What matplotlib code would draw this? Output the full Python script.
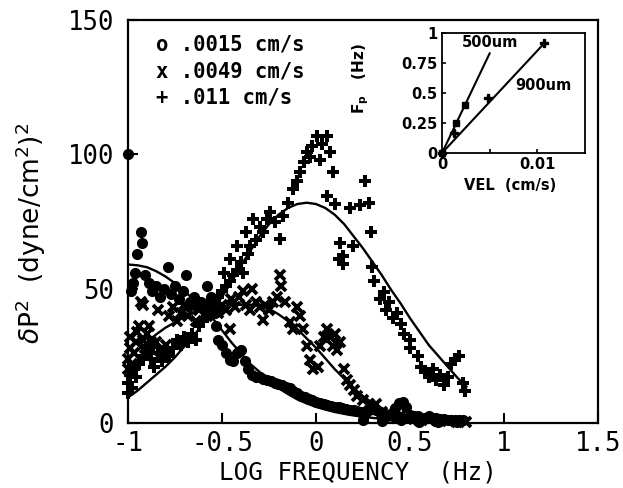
import matplotlib
matplotlib.use('Agg')
import matplotlib.pyplot as plt

# ---------------- data ----------------
# fitted curves (log frequency, power)
fit_freq = [-1.00, -0.95, -0.90, -0.85, -0.80, -0.75, -0.70, -0.65, -0.60, -0.55,
            -0.50, -0.45, -0.40, -0.35, -0.30, -0.25, -0.20, -0.15, -0.10, -0.05,
            0.00, 0.05, 0.10, 0.15, 0.20, 0.25, 0.30, 0.35, 0.40, 0.45,
            0.50, 0.55, 0.60, 0.65, 0.70, 0.75, 0.80]
fit_o = [59, 58.7, 58, 56.5, 54.5, 52, 49, 46, 43, 39,
         34.5, 30, 26, 22, 19, 16, 13, 10.8, 8.8, 7.3,
         6, 5, 4.1, 3.4, 2.8, 2.3, 1.9, 1.6, 1.3, 1.1,
         0.9, 0.75, 0.6, 0.5, 0.42, 0.35, 0.3]
fit_x = [24, 27, 30, 33, 35.5, 37.5, 39.5, 41, 42, 43,
         43.5, 44, 44, 44, 43.5, 42.5, 40.5, 38, 35, 31.5,
         28, 24, 20, 16.5, 13, 10, 7.5, 5.5, 4, 3,
         2.2, 1.6, 1.2, 0.9, 0.7, 0.5, 0.4]
fit_p = [9.5, 12, 15, 18, 21, 24.5, 28.5, 32.5, 37, 42,
         47, 52.5, 58.5, 64, 69.5, 74, 77.5, 80, 81.5, 82,
         81.5, 80, 77.5, 74, 69.5, 65, 60, 55, 49.5, 44.5,
         39, 34, 29, 25, 21, 17, 13.5]

# series o : .0015 cm/s
o_freq = [-1.00, -0.93, -0.925, -0.95, -0.965, -0.975, -0.985, -0.91, -0.89, -0.87,
          -0.85, -0.83, -0.81, -0.79, -0.77, -0.75, -0.73, -0.71, -0.69, -0.67,
          -0.65, -0.63, -0.61, -0.59, -0.58, -0.56, -0.54, -0.53, -0.52, -0.50,
          -0.48, -0.46, -0.44, -0.42, -0.40, -0.38, -0.36, -0.34, -0.32, -0.30,
          -0.28, -0.26, -0.24, -0.22, -0.20, -0.18, -0.16, -0.14, -0.12, -0.10,
          -0.08, -0.06, -0.04, -0.02, 0.00, 0.02, 0.04, 0.06, 0.08, 0.10,
          0.12, 0.14, 0.16, 0.18, 0.20, 0.22, 0.24, 0.26, 0.28, 0.30,
          0.32, 0.34, 0.36, 0.38, 0.40, 0.42, 0.44, 0.46, 0.48, 0.50,
          0.52, 0.54, 0.56, 0.58, 0.60, 0.62, 0.64, 0.66, 0.68, 0.70,
          0.72, 0.74, 0.76, 0.78, 0.25, 0.35, 0.45, 0.55, 0.65, 0.75]
o_pow = [100, 71, 67, 63, 56, 52, 49, 55, 52, 49,
         51, 47, 50, 58, 48, 51, 46, 49, 55, 45,
         47, 43, 45, 42, 51, 47, 41, 36, 31, 29,
         26, 23.5, 23, 26, 27, 23, 20, 18, 17, 17,
         16.5, 16, 15.5, 15, 14.5, 14, 13.5, 13, 12, 11,
         10, 9.5, 9, 8.5, 8, 7.5, 7, 6.8, 6.5, 6,
         5.8, 5.5, 5.2, 5, 4.8, 4.5, 4, 3.5, 5, 6.5,
         5, 4, 3, 2.5, 3, 5.5, 7.5, 8, 6, 3,
         2.5, 2.5, 2, 2, 2.5, 2, 2, 1.5, 1.5, 1.2,
         1.2, 1, 1, 1, 1, 0.8, 1, 0.5, 0.5, 0.5]

# series x : .0049 cm/s
x_freq = [-1.00, -1.00, -0.99, -0.99, -0.98, -0.97, -0.96, -0.95, -0.94, -0.93,
          -0.92, -0.92, -0.91, -0.90, -0.89, -0.88, -0.87, -0.85, -0.84, -0.83,
          -0.82, -0.80, -0.78, -0.76, -0.74, -0.72, -0.70, -0.68, -0.66, -0.64,
          -0.62, -0.60, -0.58, -0.56, -0.54, -0.52, -0.50, -0.48, -0.46, -0.45,
          -0.43, -0.41, -0.39, -0.37, -0.35, -0.34, -0.32, -0.30, -0.28, -0.27,
          -0.25, -0.23, -0.21, -0.19, -0.185, -0.165, -0.14, -0.12, -0.10, -0.085,
          -0.07, -0.05, -0.03, -0.016, 0.01, 0.02, 0.04, 0.06, 0.075, 0.09,
          0.10, 0.11, 0.13, 0.15, 0.165, 0.18, 0.20, 0.22, 0.25, 0.28,
          0.30, 0.32, 0.35, 0.38, 0.40, 0.43, 0.45, 0.48, 0.52, 0.55,
          0.60, 0.65, 0.70, 0.75, 0.80]
x_pow = [20, 24, 28, 32, 22, 26, 30, 34, 36, 45,
         44, 31, 28, 33, 36, 30, 27, 30, 42, 27,
         25, 29, 40, 43, 38, 41, 44, 40, 43, 38,
         42, 44, 40, 43, 45, 41, 44, 42, 35, 46,
         43, 47, 49, 44, 42, 50, 45, 43, 38.5, 44,
         42, 45, 47, 55, 51, 45, 37.5, 35, 43, 40,
         35, 28.5, 23.6, 20, 21, 28.5, 32, 35, 32, 28.5,
         33, 27, 30, 20, 16, 14, 12.3, 10, 8.6, 7,
         6, 7, 4, 3.5, 2.5, 2, 3, 2, 1.5, 1,
         1, 0.8, 0.8, 0.5, 0.5]

# series + : .011 cm/s
p_freq = [-1.00, -1.00, -0.99, -0.98, -0.97, -0.96, -0.94, -0.92, -0.90, -0.88,
          -0.86, -0.84, -0.82, -0.80, -0.78, -0.76, -0.74, -0.72, -0.70, -0.68,
          -0.66, -0.64, -0.62, -0.60, -0.58, -0.56, -0.54, -0.52, -0.50, -0.49,
          -0.48, -0.46, -0.46, -0.44, -0.42, -0.42, -0.40, -0.39, -0.37, -0.36,
          -0.35, -0.335, -0.32, -0.30, -0.28, -0.26, -0.245, -0.22, -0.19, -0.175,
          -0.15, -0.12, -0.10, -0.085, -0.065, -0.048, -0.03, -0.02, 0.005, 0.02,
          0.03, 0.058, 0.075, 0.09, 0.058, 0.10, 0.13, 0.12, 0.145, 0.145,
          0.18, 0.197, 0.235, 0.26, 0.28, 0.29, 0.30, 0.31, 0.34, 0.36,
          0.37, 0.39, 0.41, 0.43, 0.45, 0.47, 0.50, 0.50, 0.54, 0.56,
          0.58, 0.60, 0.62, 0.64, 0.66, 0.68, 0.70, 0.72, 0.74, 0.76,
          0.78, 0.79]
p_pow = [11, 15, 18, 13, 20, 17, 22, 25, 28, 24,
         21, 26, 23, 27, 25, 28, 31, 29, 32, 30,
         33, 31, 36, 38, 40, 42, 45, 47, 49, 56,
         51, 61, 53, 55, 66, 57, 60, 56, 71, 63,
         66, 76, 68, 73, 71, 76, 78.5, 75, 68.5, 77,
         82, 87, 90, 93.5, 97, 101, 99, 103, 107, 98,
         104, 107, 101, 93.5, 84.5, 81.5, 67, 61, 62, 59,
         80, 66, 81, 90, 82, 71, 58, 53, 46, 48.6,
         42, 45, 39, 41, 37, 33, 31, 28, 25, 21,
         19, 17, 20, 16, 18, 14, 17, 22, 24, 25,
         15, 12]

legend_labels = ['o .0015 cm/s', 'x .0049 cm/s', '+ .011 cm/s']
x_ticks = [-1, -0.5, 0, 0.5, 1, 1.5]
x_ticklabels = ['-1', '-0.5', '0', '0.5', '1', '1.5']
y_ticks = [0, 50, 100, 150]

# inset data: peak frequency vs velocity
ins_vel_500 = [0.0, 0.0015, 0.0024]
ins_fp_500 = [0.0, 0.25, 0.40]
ins_vel_900 = [0.0, 0.0013, 0.0048, 0.0107]
ins_fp_900 = [0.0, 0.17, 0.46, 0.92]
line_vel_500 = [0.0, 0.0050]
line_fp_500 = [0.0, 0.83]
line_vel_900 = [0.0, 0.0108]
line_fp_900 = [0.0, 0.92]

# ---------------- figure ----------------
plt.rcParams['font.family'] = ['DejaVu Sans']
fig = plt.figure(figsize=(6.23, 4.88), dpi=100)
ax = fig.add_axes([0.2055, 0.1332, 0.7544, 0.8258])
ax.set_xlim(-1, 1.5)
ax.set_ylim(0, 150)

ax.plot(fit_freq, fit_o, color='black', lw=1.7)
ax.plot(fit_freq, fit_x, color='black', lw=1.7)
ax.plot(fit_freq, fit_p, color='black', lw=1.7)

ax.plot(o_freq, o_pow, 'o', ms=7, color='black', clip_on=False)
ax.plot(x_freq, x_pow, 'x', ms=6.5, mew=2.7, color='black', clip_on=False)
ax.plot(p_freq, p_pow, '+', ms=8, mew=2.9, color='black', clip_on=False)

ax.set_xticks(x_ticks)
ax.set_xticklabels(x_ticklabels)
ax.set_yticks(y_ticks)
ax.tick_params(direction='in', length=7, width=1.5, labelsize=18.5)
ax.tick_params(axis='x', pad=6)
ax.tick_params(axis='y', pad=10)
for lab in ax.get_xticklabels() + ax.get_yticklabels():
    lab.set_family('DejaVu Sans Mono')
for s in ax.spines.values():
    s.set_linewidth(1.6)

ax.set_xlabel('LOG FREQUENCY  (Hz)', fontsize=17.5, family='DejaVu Sans Mono')
ax.xaxis.set_label_coords(0.489, -0.094)
ax.set_ylabel(r'$\delta$P$^2$  (dyne/cm$^2$)$^2$', fontsize=19)
ax.yaxis.set_label_coords(-0.17, 0.47)

for i, lab in enumerate(legend_labels):
    ax.text(-0.85, 141 - 10 * i, lab, fontsize=14.8, fontweight='bold',
            family='DejaVu Sans Mono', va='center', ha='left')

# ---------------- inset ----------------
ins = fig.add_axes([0.7095, 0.6865, 0.2295, 0.246])
ins.set_xlim(0, 0.015)
ins.set_ylim(0, 1)
ins.plot(line_vel_500, line_fp_500, color='black', lw=1.5)
ins.plot(line_vel_900, line_fp_900, color='black', lw=1.5)
ins.plot(ins_vel_500, ins_fp_500, 's', ms=4, color='black', clip_on=False)
ins.plot(ins_vel_900, ins_fp_900, 'P', ms=5.5, color='black', clip_on=False)
ins.set_xticks([0, 0.005, 0.01])
ins.set_xticklabels(['0', '', '0.01'])
ins.set_yticks([0, 0.25, 0.5, 0.75, 1])
ins.set_yticklabels(['0', '0.25', '0.5', '0.75', '1'])
ins.tick_params(direction='in', length=3, width=1.2, labelsize=10.5, pad=3)
for lab in ins.get_xticklabels() + ins.get_yticklabels():
    lab.set_fontweight('bold')
for s in ins.spines.values():
    s.set_linewidth(1.3)
ins.text(0.0021, 0.92, '500um', fontsize=10.5, fontweight='bold', va='center', ha='left')
ins.text(0.0077, 0.56, '900um', fontsize=10.5, fontweight='bold', va='center', ha='left')
ins.set_xlabel('VEL  (cm/s)', fontsize=10.5, fontweight='bold')
ins.xaxis.set_label_coords(0.475, -0.21)
ins.set_ylabel(r'$\mathbf{F_p}$   (Hz)', fontsize=11, fontweight='bold')
ins.yaxis.set_label_coords(-0.50, 0.62)

fig.savefig('out.png', dpi=100)
